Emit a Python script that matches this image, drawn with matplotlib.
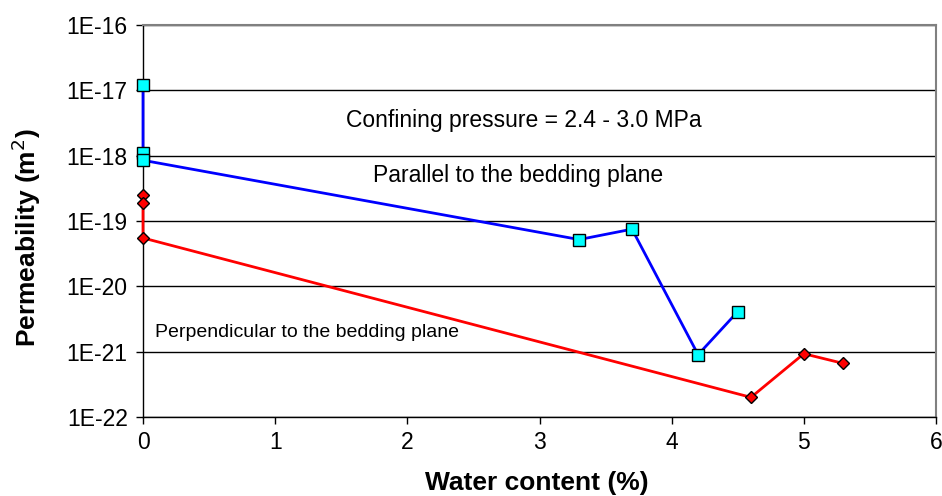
import matplotlib.pyplot as plt
from matplotlib.ticker import FixedLocator

plt.rcParams['font.family'] = ['Liberation Sans', 'DejaVu Sans']

# Parallel to the bedding plane
x_par = [0, 0, 0, 3.3, 3.7, 4.2, 4.5]
k_par = [1.2e-17, 1.1e-18, 0.85e-18, 5.2e-20, 7.5e-20, 0.9e-21, 4.1e-21]

# Perpendicular to the bedding plane
x_perp = [0, 0, 0, 4.6, 5.0, 5.3]
k_perp = [2.5e-19, 1.9e-19, 5.5e-20, 2.0e-22, 0.93e-21, 6.6e-22]

y_ticks = [1e-22, 1e-21, 1e-20, 1e-19, 1e-18, 1e-17, 1e-16]
y_labels = ['1E-22', '1E-21', '1E-20', '1E-19', '1E-18', '1E-17', '1E-16']
x_ticks = [0, 1, 2, 3, 4, 5, 6]

fig = plt.figure(figsize=(9.42, 4.96), dpi=100)
ax = fig.add_axes([143 / 942, 1 - 417 / 496, (936 - 143) / 942, (417 - 25) / 496])

ax.set_yscale('log')
ax.set_xlim(0, 6)
ax.set_ylim(1e-22, 1e-16)

ax.yaxis.set_major_locator(FixedLocator(y_ticks))
ax.set_yticklabels(y_labels)
ax.yaxis.set_minor_locator(FixedLocator([]))
ax.set_xticks(x_ticks)
ax.tick_params(axis='both', labelsize=16.5, direction='out', length=5, width=1)
ax.tick_params(axis='y', pad=6)
ax.tick_params(axis='x', pad=5)

ax.grid(True, axis='y', color='black', linewidth=1)
ax.set_axisbelow(True)

ax.plot(x_par, k_par, '-', color='#0000ff', linewidth=2, marker='s', markersize=8,
        markerfacecolor='#00ffff', markeredgecolor='black', markeredgewidth=1, clip_on=False, zorder=3)
ax.plot(x_perp, k_perp, '-', color='#ff0000', linewidth=2, marker='D', markersize=6,
        markerfacecolor='#ff0000', markeredgecolor='black', markeredgewidth=1, clip_on=False, zorder=3)

ax.text(2.88, 10 ** -17.455, 'Confining pressure = 2.4 - 3.0 MPa', fontsize=16.5,
        ha='center', va='center')
ax.text(2.84, 10 ** -18.30, 'Parallel to the bedding plane', fontsize=16.5,
        ha='center', va='center')
ax.text(0.09, 10 ** -20.70, 'Perpendicular to the bedding plane', fontsize=14,
        ha='left', va='center')

for s in ['top', 'right']:
    ax.spines[s].set_color('#808080')
    ax.spines[s].set_linewidth(1.5)
for s in ['left', 'bottom']:
    ax.spines[s].set_color('black')
    ax.spines[s].set_linewidth(1)

ax.set_xlabel('Water content (%)', fontsize=19, fontweight='bold', va='center', ha='center')
ax.xaxis.set_label_coords(0.496, -0.168)
ax.set_ylabel('Permeability (m$^2$)', fontsize=19, fontweight='bold', va='center', ha='center')
ax.yaxis.set_label_coords(-0.1475, 0.457)

fig.savefig('out.png', dpi=100)
